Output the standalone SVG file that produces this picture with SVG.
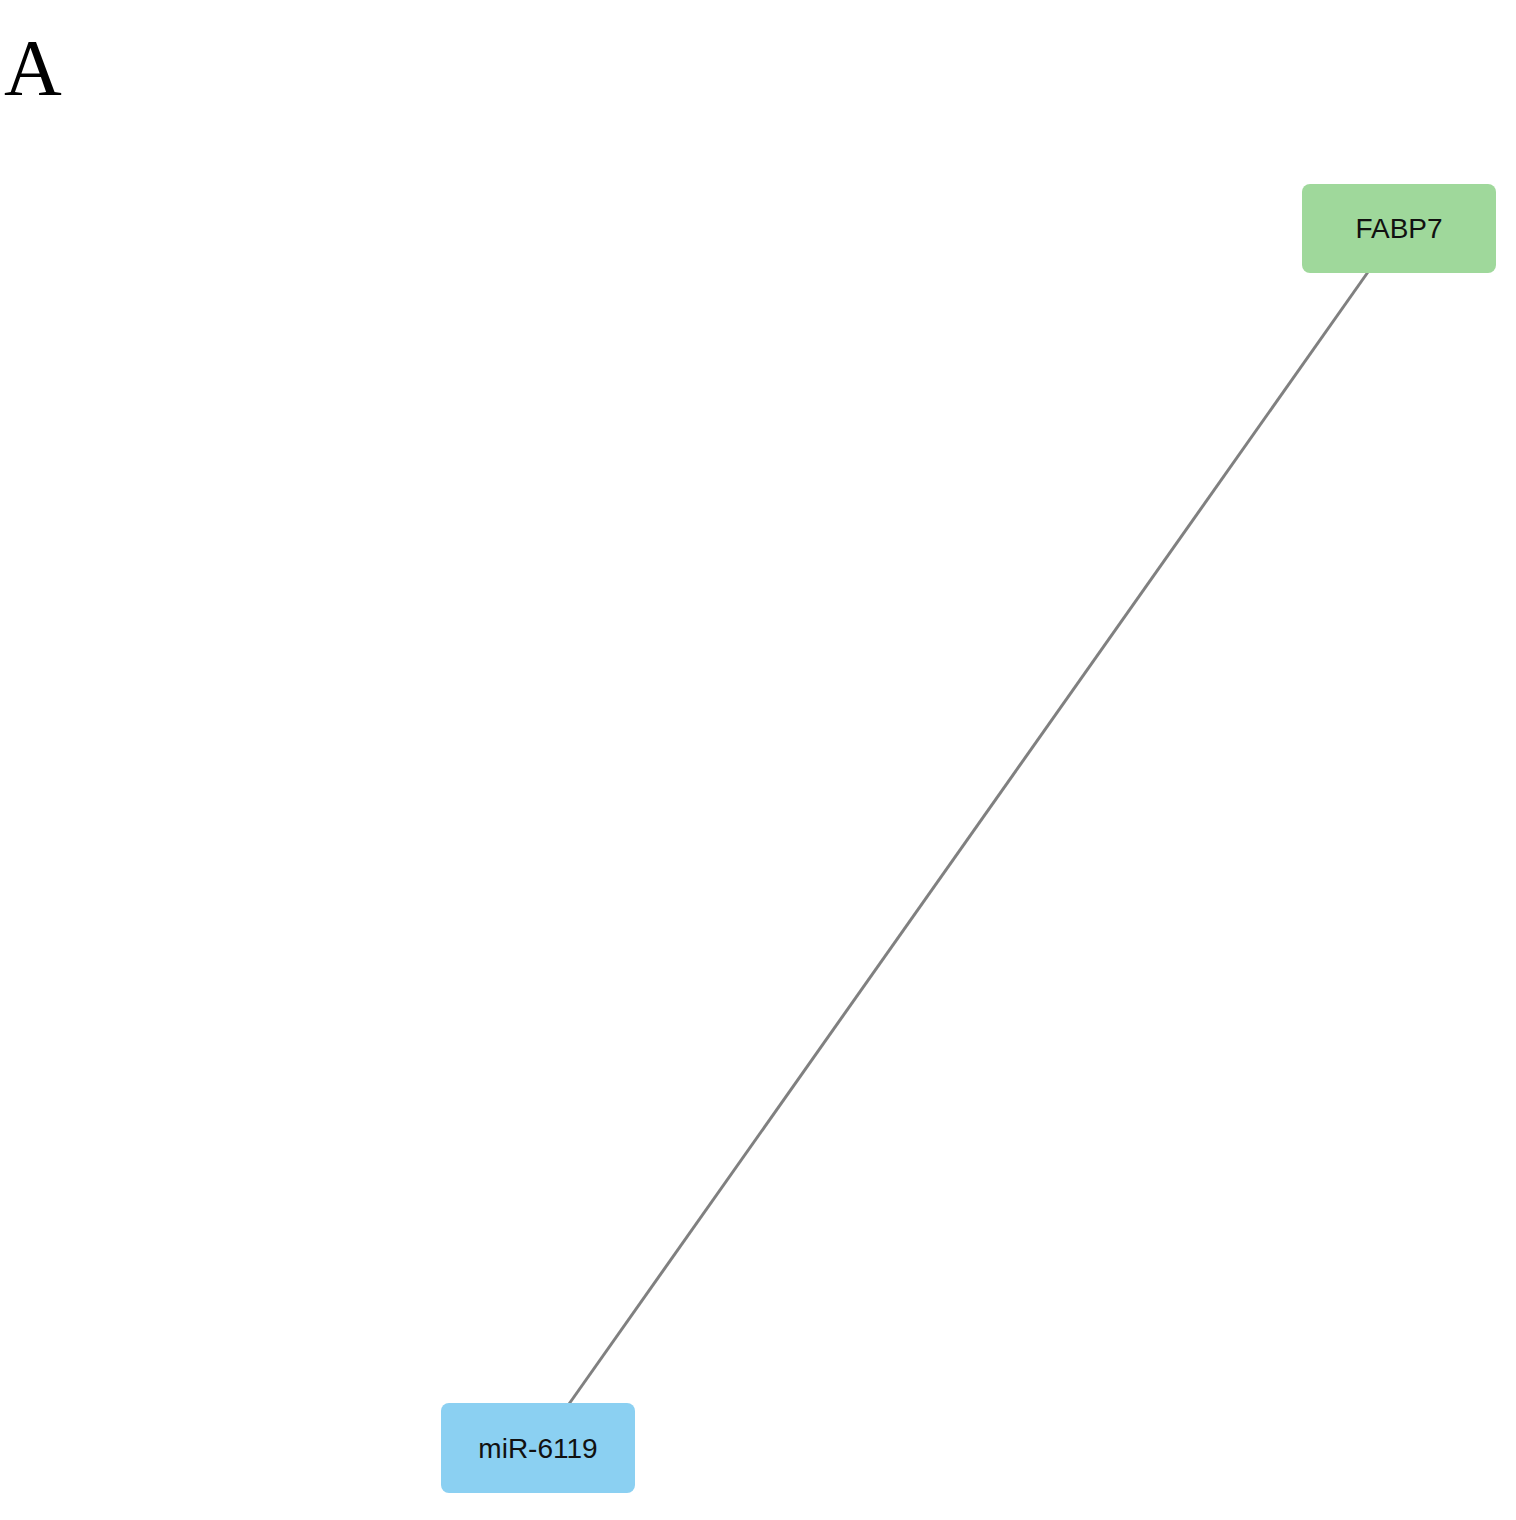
<svg xmlns="http://www.w3.org/2000/svg" width="1516" height="1520" viewBox="0 0 1516 1520">
<style>
.lbl{font-family:"Liberation Sans",Arial,sans-serif;font-size:28px;fill:#111;text-anchor:middle;dominant-baseline:central}
</style>
<rect width="1516" height="1520" fill="#fff"/>
<text x="4" y="95" font-family="Liberation Serif,serif" font-size="80" fill="#000">A</text>
<g id="connectors"><line x1="1368" y1="272" x2="569" y2="1404" stroke="#808080" stroke-width="3"/></g>
<g id="FABP7"><rect x="1302" y="184" width="194" height="89" rx="8" fill="#9fd89b"/><text class="lbl" x="1399" y="228">FABP7</text></g>
<g id="miR-6119"><rect x="441" y="1403" width="194" height="90" rx="8" fill="#8bd0f2"/><text class="lbl" x="538" y="1448">miR-6119</text></g>
</svg>
